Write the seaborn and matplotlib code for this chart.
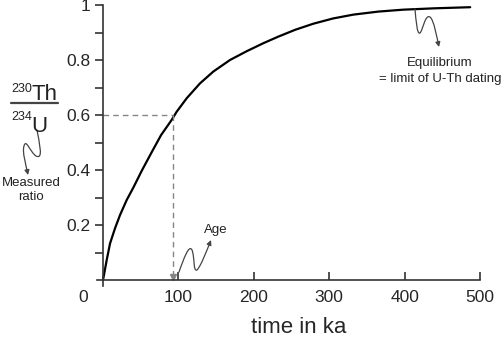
import numpy as np
import pandas as pd
import seaborn as sns
import matplotlib.pyplot as plt
from matplotlib.path import Path
from matplotlib.patches import FancyArrowPatch

# curve: 230Th/234U activity ratio vs time
time_ka = [0, 4.9, 9.3, 15.9, 22.5, 31.4, 40.2, 51.3, 64.6, 77, 91, 97.7, 111, 128.6,
           146.3, 168.4, 190.6, 212.6, 232.5, 255, 279, 305, 332, 365, 398, 440, 487]
ratio = [0, 0.073, 0.133, 0.188, 0.236, 0.291, 0.336, 0.397, 0.465, 0.527, 0.582, 0.612,
         0.661, 0.715, 0.758, 0.8, 0.832, 0.861, 0.885, 0.91, 0.932, 0.951, 0.965, 0.976,
         0.983, 0.988, 0.992]
measured_ratio = 0.6
age_ka = 93
x_ticks = [100, 200, 300, 400, 500]
y_major = [0.2, 0.4, 0.6, 0.8, 1.0]
y_labels = ["0.2", "0.4", "0.6", "0.8", "1"]
y_minor = [0.1, 0.3, 0.5, 0.7, 0.9]

df = pd.DataFrame({"time": time_ka, "ratio": ratio})

sns.set_style("ticks")
plt.rcParams["font.family"] = ["Liberation Sans", "DejaVu Sans"]

W, H = 501, 337
fig = plt.figure(figsize=(W / 100, H / 100), dpi=100)
ax = fig.add_axes([97 / W, 1 - 286 / H, (480 - 97) / W, (286 - 5) / H])

sns.lineplot(data=df, x="time", y="ratio", ax=ax, color="black", lw=1.6)

# dashed guide from measured ratio to age
grey = "#858585"
ax.plot([0, age_ka], [measured_ratio, measured_ratio], ls=(0, (4, 3)), color=grey, lw=1)
ax.plot([age_ka, age_ka], [measured_ratio, 0.015], ls=(0, (4, 3)), color=grey, lw=1)
ax.plot([age_ka], [0.012], marker="v", color=grey, ms=5, clip_on=False)

ax.set_xlim(-8, 500)
ax.set_ylim(-6 / 275, 1)
for s in ["top", "right"]:
    ax.spines[s].set_visible(False)
ax.spines["left"].set_position(("data", 0))
ax.spines["bottom"].set_position(("data", 0))
for s in ["left", "bottom"]:
    ax.spines[s].set_color("#333333")
    ax.spines[s].set_linewidth(1.2)

ax.set_xticks(x_ticks)
ax.set_xticklabels([str(t) for t in x_ticks])
ax.tick_params(axis="x", direction="in", length=6, width=1.2, color="#333333",
               labelsize=12.5, pad=7)
ax.set_yticks(y_major)
ax.set_yticklabels(y_labels)
ax.set_yticks(y_minor, minor=True)
ax.tick_params(axis="y", which="both", direction="out", length=6, width=1.2,
               color="#333333", labelsize=12.5, pad=3)
ax.annotate("0", xy=(-26.5, 0), xytext=(0, -7), textcoords="offset points",
            ha="center", va="top", fontsize=12.5, annotation_clip=False)

ax.set_xlabel("time in ka", fontsize=16, va="baseline")
ax.xaxis.set_label_coords((299 - 97) / (480 - 97), (286 - 333) / 281)
ax.set_ylabel("")


def fp(x, y):
    return (x / W, 1 - y / H)


# y label as isotope fraction
tk = dict(color="#222222", transform=fig.transFigure)
fig.text(*fp(32, 92), "230", fontsize=9, ha="right", va="baseline", **tk)
fig.text(*fp(32, 100), "Th", fontsize=16, ha="left", va="baseline", **tk)
fig.add_artist(plt.Line2D([11 / W, 58 / W], [1 - 102.7 / H] * 2, color="#444444",
                          lw=1.6, transform=fig.transFigure))
fig.text(*fp(32, 120), "234", fontsize=9, ha="right", va="baseline", **tk)
fig.text(*fp(31, 132), "U", fontsize=16, ha="left", va="baseline", **tk)

fig.text(*fp(31, 183), "Measured", fontsize=9.5, ha="center", va="center", **tk)
fig.text(*fp(31, 197), "ratio", fontsize=9.5, ha="center", va="center", **tk)
fig.text(*fp(216, 230), "Age", fontsize=9.5, ha="center", va="center", **tk)
fig.text(*fp(440, 63), "Equilibrium", fontsize=9.5, ha="center", va="center", **tk)
fig.text(*fp(440, 79), "= limit of U-Th dating", fontsize=9.5, ha="center",
         va="center", **tk)


def squiggle(pts):
    verts = [fp(x, y) for x, y in pts]
    codes = [Path.MOVETO] + [Path.CURVE4] * (len(verts) - 1)
    p = FancyArrowPatch(path=Path(verts, codes), arrowstyle="-|>", mutation_scale=7,
                        color="#444444", lw=0.9, transform=fig.transFigure)
    fig.add_artist(p)


squiggle([(37, 130), (39, 142), (44, 160), (36, 156), (30, 152), (26, 138), (24, 146),
          (22, 152), (26, 165), (28, 175)])
squiggle([(179, 272), (184, 258), (189, 244), (192, 250), (195, 258), (193, 272),
          (197, 270), (201, 266), (207, 250), (211, 240)])
squiggle([(415, 9), (416, 20), (417, 35), (420, 33), (423, 30), (425, 14), (430, 17),
          (434, 20), (437, 38), (439, 47)])

fig.savefig("out.png", dpi=100)
